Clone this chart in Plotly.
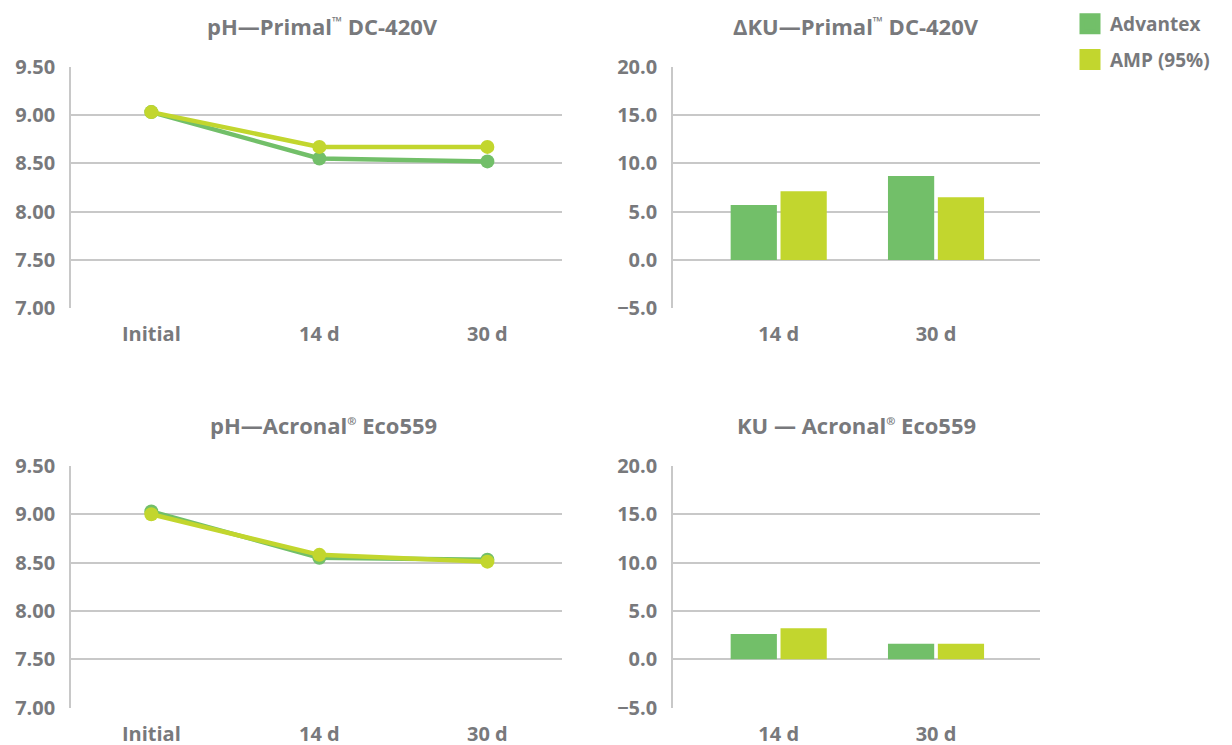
import plotly.graph_objects as go

# ---- data ----
ph_categories = ["Initial", "14 d", "30 d"]
ku_categories = ["14 d", "30 d"]

ph_primal_advantex = [9.03, 8.55, 8.52]
ph_primal_amp = [9.03, 8.67, 8.67]

ku_primal_advantex = [5.7, 8.7]
ku_primal_amp = [7.1, 6.5]

ph_acronal_advantex = [9.03, 8.55, 8.53]
ph_acronal_amp = [9.00, 8.58, 8.51]

ku_acronal_advantex = [2.6, 1.6]
ku_acronal_amp = [3.2, 1.6]

series_names = ["Advantex", "AMP (95%)"]
ph_ticks = [7.0, 7.5, 8.0, 8.5, 9.0, 9.5]
ku_ticks = [-5.0, 0.0, 5.0, 10.0, 15.0, 20.0]

TM = '<sup><span style="font-size:13px">\u2122</span></sup>'
REG = '<sup><span style="font-size:11px">\u00ae</span></sup>'
titles = [
    "pH\u2014Primal" + TM + " DC-420V",
    "\u0394KU\u2014Primal" + TM + " DC-420V",
    "pH\u2014Acronal" + REG + " Eco559",
    "KU \u2014 Acronal" + REG + " Eco559",
]

# ---- style ----
GREEN = "#72bf69"
LIME = "#c2d62e"
TEXT = "#78797c"
GRID = "#c8c8c8"
FONT = "Open Sans"

W, H = 1232, 745
OFF = 8  # page body margin of the html page


def px_x(v):
    return (v - OFF) / W


def px_y(v):
    return 1 - (v - OFF) / H


dom_x_left = [px_x(71), px_x(562)]
dom_x_right = [px_x(673), px_x(1040)]
dom_y_top = [px_y(308.3), px_y(66.7)]
dom_y_bot = [px_y(707.5), px_y(466)]

fig = go.Figure()


def line_pair(adv, amp, xa, ya):
    fig.add_trace(go.Scatter(x=ph_categories, y=adv, mode="lines+markers",
                             line=dict(color=GREEN, width=4.5),
                             marker=dict(color=GREEN, size=14),
                             xaxis=xa, yaxis=ya, showlegend=False, name=series_names[0]))
    fig.add_trace(go.Scatter(x=ph_categories, y=amp, mode="lines+markers",
                             line=dict(color=LIME, width=4.5),
                             marker=dict(color=LIME, size=14),
                             xaxis=xa, yaxis=ya, showlegend=False, name=series_names[1]))


def bar_pair(adv, amp, xa, ya):
    fig.add_trace(go.Bar(x=ku_categories, y=adv, marker=dict(color=GREEN, line=dict(width=0)),
                         xaxis=xa, yaxis=ya, showlegend=False, name=series_names[0]))
    fig.add_trace(go.Bar(x=ku_categories, y=amp, marker=dict(color=LIME, line=dict(width=0)),
                         xaxis=xa, yaxis=ya, showlegend=False, name=series_names[1]))


line_pair(ph_primal_advantex, ph_primal_amp, "x", "y")
bar_pair(ku_primal_advantex, ku_primal_amp, "x2", "y2")
line_pair(ph_acronal_advantex, ph_acronal_amp, "x3", "y3")
bar_pair(ku_acronal_advantex, ku_acronal_amp, "x4", "y4")

# legend entries (square swatches)
for nm, col, grp in [(series_names[0], GREEN, "a"), (series_names[1], LIME, "b")]:
    fig.add_trace(go.Scatter(x=[None], y=[None], mode="markers", name=nm,
                             marker=dict(symbol="square", size=16, color=col,
                                         line=dict(color=col, width=5)),
                             xaxis="x2", yaxis="y2", legendgroup=grp, showlegend=True))

tickfont = dict(family=FONT, size=20, color=TEXT, weight="bold")


def xaxis_cfg(domain, anchor, rng):
    return dict(domain=domain, anchor=anchor, type="category", range=rng,
                showgrid=False, zeroline=False, showline=False, ticks="",
                tickfont=tickfont, ticklabelstandoff=12, fixedrange=True,
                automargin=False)


def yaxis_cfg(domain, anchor, ticks, fmt):
    return dict(domain=domain, anchor=anchor, range=[ticks[0], ticks[-1]],
                tickvals=ticks, tickformat=fmt, showgrid=True, gridcolor=GRID,
                gridwidth=1.6, zeroline=False, showline=True, linecolor=GRID,
                linewidth=1.6, ticks="", tickfont=tickfont, ticklabelstandoff=10,
                fixedrange=True, automargin=False)


fig.update_layout(
    width=W, height=H,
    margin=dict(l=0, r=0, t=0, b=0, autoexpand=False),
    paper_bgcolor="white", plot_bgcolor="white",
    font=dict(family=FONT, color=TEXT),
    barmode="group", bargap=0.366, bargroupgap=0.073,
    xaxis=xaxis_cfg(dom_x_left, "y", [-0.478, 2.444]),
    yaxis=yaxis_cfg(dom_y_top, "x", ph_ticks, ".2f"),
    xaxis2=xaxis_cfg(dom_x_right, "y2", [-0.672, 1.661]),
    yaxis2=yaxis_cfg(dom_y_top, "x2", ku_ticks, ".1f"),
    xaxis3=xaxis_cfg(dom_x_left, "y3", [-0.478, 2.444]),
    yaxis3=yaxis_cfg(dom_y_bot, "x3", ph_ticks, ".2f"),
    xaxis4=xaxis_cfg(dom_x_right, "y4", [-0.672, 1.661]),
    yaxis4=yaxis_cfg(dom_y_bot, "x4", ku_ticks, ".1f"),
    showlegend=True,
    legend=dict(x=px_x(1070), y=px_y(5), xanchor="left", yanchor="top",
                font=dict(family=FONT, size=19, color=TEXT, weight="bold"),
                tracegroupgap=8, itemsizing="trace", bgcolor="rgba(0,0,0,0)"),
)

title_pos = [
    (px_x(322), px_y(26.5)),
    (px_x(856), px_y(26.5)),
    (px_x(323), px_y(424.5)),
    (px_x(856), px_y(424.5)),
]
for t, (tx, ty) in zip(titles, title_pos):
    fig.add_annotation(text=t, x=tx, y=ty, xref="paper", yref="paper",
                       xanchor="center", yanchor="middle", showarrow=False,
                       font=dict(family=FONT, size=22, color=TEXT, weight="bold"))

fig.write_html("out.html")
